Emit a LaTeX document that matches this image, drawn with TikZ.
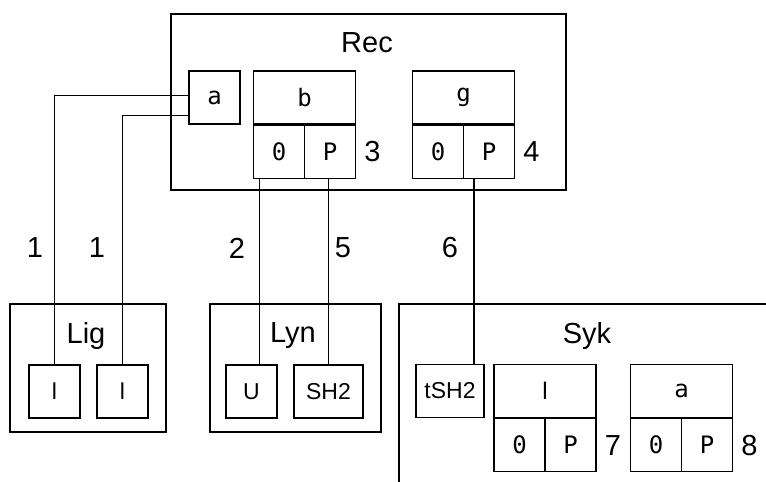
\documentclass[tikz,border=0pt]{standalone}
\usepackage{fontspec}
\setmainfont{Liberation Sans}
\setmonofont{DejaVu Sans Mono}
\usetikzlibrary{positioning}

\tikzset{
	grp/.style={draw, line width=1.2pt, inner sep=0pt},
	cell/.style={draw, line width=1.2pt, inner sep=0pt, minimum width=51pt, minimum height=53pt, font=\fontsize{24}{24}\ttfamily},
	dom/.style={draw, line width=1.2pt, inner sep=0pt, minimum width=51pt, minimum height=53pt, font=\fontsize{23}{23}\selectfont},
	big/.style={inner sep=0pt, font=\fontsize{29}{29}\selectfont},
	link/.style={line width=1.2pt}
}

\begin{document}
\begin{tikzpicture}[x=1pt,y=-1pt]
	\useasboundingbox (0,0) rectangle (766,482);
	% groups
	\node[grp, minimum width=395pt, minimum height=176pt] (rec) at (368.5,102) {};
	\node[grp, minimum width=156pt, minimum height=128pt] (lig) at (88,368) {};
	\node[grp, minimum width=171pt, minimum height=128pt] (lyn) at (295.5,368) {};
	\node[grp, minimum width=402pt, minimum height=232pt] (syk) at (600,420) {};
	\node[big] (recname) at (367,43) {Rec};
	\node[big] (ligname) at (86,336) {Lig};
	\node[big] (lynname) at (293,336) {Lyn};
	\node[big] (sykname) at (587,336) {Syk};
	% single domains
	\node[cell] (a) at (214.5,97.5) {a};
	\node[dom] (l1) at (54.5,391.5) {l};
	\node[dom] (l2) at (122.5,391.5) {l};
	\node[dom] (u) at (251.5,391.5) {U};
	\node[dom, minimum width=69pt] (sh2) at (328.5,391.5) {SH2};
	\node[dom, minimum width=68pt] (tsh2) at (450,391) {tSH2};
	% split domains
	\foreach \n/\t/\x/\y/\k in {b/b/304.5/97.5/3, g/g/463.5/97.5/4,
		kl/\textrm{l}/545/391/7, ka/a/681.5/391/8}{
		\node[cell, minimum width=102pt] (\n) at (\x,\y) {\t};
		\node[cell, anchor=north west] (\n0) at (\n.south west) {0};
		\node[cell, anchor=north east] (\n P) at (\n.south east) {P};
		\node[big, right=8pt of \n P] (\n num) {\k};
	}
	% links
	\draw[link] (a.175) -| (l1.north);
	\draw[link] (a.215) -| (l2.north);
	\draw[link] (b0.-126) -- (b0.-126 |- u.north);
	\draw[link] (sh2.north) -- (sh2.north |- bP.south);
	\draw[link] (gP.-119.5) -- (gP.-119.5 |- tsh2.north);
	\node[big] (c1) at (35,248) {1};
	\node[big] (c1b) at (97,248) {1};
	\node[big] (c2) at (237,248) {2};
	\node[big] (c5) at (343,248) {5};
	\node[big] (c6) at (450,248) {6};
\end{tikzpicture}
\end{document}
